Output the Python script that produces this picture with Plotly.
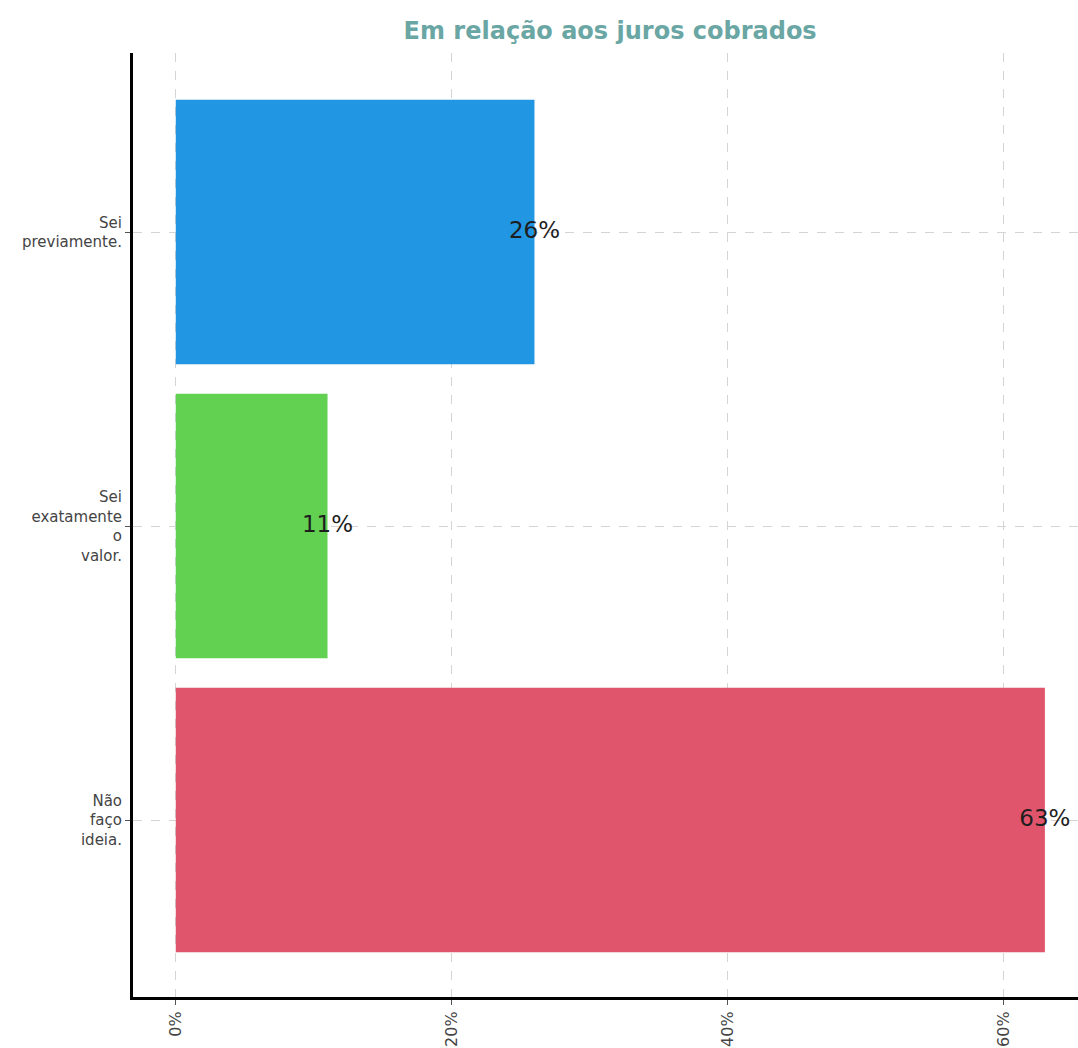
import plotly.graph_objects as go

# Survey responses about interest charged
categories = ["Sei<br>previamente.", "Sei<br>exatamente<br>o<br>valor.", "Não<br>faço<br>ideia."]
values = [26, 11, 63]
colors = ["#2196e3", "#62d152", "#e0556b"]
x_ticks = [0, 20, 40, 60]
x_tick_labels = ["0%", "20%", "40%", "60%"]

positions = list(range(len(categories)))
FONT = "DejaVu Sans, Verdana, sans-serif"

fig = go.Figure()
fig.add_trace(go.Bar(
    x=values, y=positions, orientation="h",
    marker=dict(color=colors, line=dict(width=0)),
    width=0.9, hoverinfo="skip", showlegend=False,
))
fig.add_trace(go.Scatter(
    x=values, y=positions, mode="text",
    text=[f"{v}%" for v in values], textposition="middle center",
    textfont=dict(size=23, color="#1e1e1e", family=FONT),
    hoverinfo="skip", showlegend=False,
))

fig.update_layout(
    width=1078, height=1048,
    margin=dict(l=133, r=0, t=53, b=51),
    paper_bgcolor="white", plot_bgcolor="white",
    font=dict(family=FONT, color="#444"),
    title=dict(
        text="<b>Em relação aos juros cobrados</b>",
        x=0.566, xanchor="center", y=0.971, yanchor="middle",
        font=dict(size=24, color="#6aa6a3", family=FONT),
    ),
    bargap=0.1,
)
fig.update_xaxes(
    range=[-3.1, 65.4], tickvals=x_ticks, ticktext=x_tick_labels,
    tickangle=-90, tickfont=dict(size=16, color="#444"),
    showgrid=True, gridcolor="#d4d4d4", griddash="dash", gridwidth=1,
    showline=True, linecolor="black", linewidth=3,
    ticks="outside", ticklen=5, tickcolor="#555", zeroline=False,
)
fig.update_yaxes(
    range=[2.602, -0.609], tickvals=positions, ticktext=categories,
    tickfont=dict(size=15, color="#444"),
    showgrid=True, gridcolor="#d4d4d4", griddash="dash", gridwidth=1,
    showline=True, linecolor="black", linewidth=3,
    ticks="outside", ticklen=5, tickcolor="#555", zeroline=False,
)

fig.write_html("out.html")
